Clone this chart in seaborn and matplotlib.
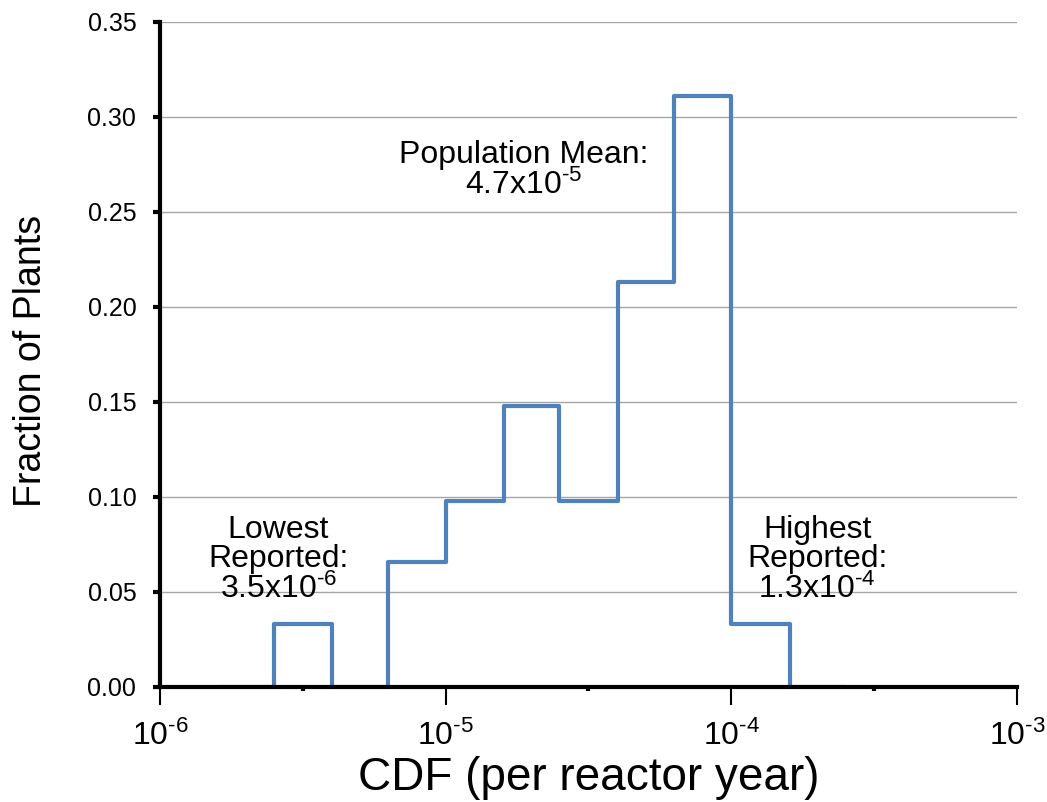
import numpy as np
import matplotlib
matplotlib.use("Agg")
import matplotlib.pyplot as plt
import matplotlib.ticker as mticker
import pandas as pd
import seaborn as sns

# bin edges (CDF per reactor year) and the fraction of plants in each bin
# (empty bins at both ends so the outline drops back to zero)
bin_edges = [1.6e-6, 2.5e-6, 4.0e-6, 6.3e-6, 1.0e-5, 1.6e-5, 2.5e-5, 4.0e-5,
             6.3e-5, 1.0e-4, 1.6e-4, 2.5e-4]
fractions = [0.0, 0.033, 0.0, 0.066, 0.098, 0.148, 0.098, 0.213, 0.311, 0.033, 0.0]

y_ticks = [0.00, 0.05, 0.10, 0.15, 0.20, 0.25, 0.30, 0.35]
x_decades = [1e-6, 1e-5, 1e-4, 1e-3]
x_tick_labels = ["10$^{\u20106}$", "10$^{\u20105}$", "10$^{\u20104}$", "10$^{\u20103}$"]

sns.set_style("white")
plt.rcParams["font.family"] = ["Liberation Sans", "DejaVu Sans"]
plt.rcParams["mathtext.fontset"] = "custom"
plt.rcParams["mathtext.rm"] = "Liberation Sans"
plt.rcParams["mathtext.it"] = "Liberation Sans"
plt.rcParams["mathtext.default"] = "regular"
plt.rcParams["text.color"] = "black"
plt.rcParams["axes.labelcolor"] = "black"

fig = plt.figure(figsize=(10.47, 8.02), dpi=100)
ax = fig.add_axes([0.1528, 0.1434, 0.8185, 0.8292])

log_edges = [float(v) for v in np.log10(bin_edges)]
mids = [np.sqrt(bin_edges[i] * bin_edges[i + 1]) for i in range(len(fractions))]
df = pd.DataFrame({"cdf": mids, "frac": fractions})
sns.histplot(data=df, x="cdf", weights="frac", bins=log_edges, log_scale=True,
             element="step", fill=False, color="#4F81BD", linewidth=3, ax=ax)

ax.set_xscale("log")
ax.set_xlim(1e-6, 1e-3)
ax.set_ylim(0, 0.35)
ax.set_yticks(y_ticks)
ax.yaxis.set_major_formatter(mticker.FormatStrFormatter("%.2f"))
ax.set_xticks(x_decades)
ax.set_xticklabels(x_tick_labels)
ax.xaxis.set_minor_locator(mticker.FixedLocator([10 ** -5.5, 10 ** -4.5, 10 ** -3.5]))
ax.xaxis.set_minor_formatter(mticker.NullFormatter())

ax.grid(axis="y", color="#a6a6a6", linewidth=1)
ax.set_axisbelow(True)
for side in ["top", "right"]:
    ax.spines[side].set_visible(False)
for side in ["left", "bottom"]:
    ax.spines[side].set_color("black")
    ax.spines[side].set_linewidth(3)
    ax.spines[side].set_zorder(3)

ax.tick_params(axis="y", which="major", direction="out", length=5, width=3,
               labelsize=18, pad=12, colors="black", left=True)
ax.tick_params(axis="x", which="major", direction="out", length=13, width=1.5,
               labelsize=23, pad=11, colors="black", bottom=True)
ax.tick_params(axis="x", which="minor", direction="out", length=3, width=3,
               colors="black", bottom=True)

ax.set_xlabel("CDF (per reactor year)", fontsize=33, va="top")
ax.xaxis.set_label_coords(0.5, -0.104)
ax.set_ylabel("Fraction of Plants", fontsize=27)
ax.yaxis.set_label_coords(-0.13, 0.49)

ann_kw = dict(ha="center", va="center", fontsize=23, linespacing=0.98, color="black")
ax.text(1.87e-5, 0.272, "Population Mean:\n4.7x10$^{\u20105}$", **ann_kw)
ax.text(2.6e-6, 0.067, "Lowest\nReported:\n3.5x10$^{\u20106}$", **ann_kw)
ax.text(2.0e-4, 0.067, "Highest\nReported:\n1.3x10$^{\u20104}$", **ann_kw)

fig.savefig("out.png", dpi=100)
